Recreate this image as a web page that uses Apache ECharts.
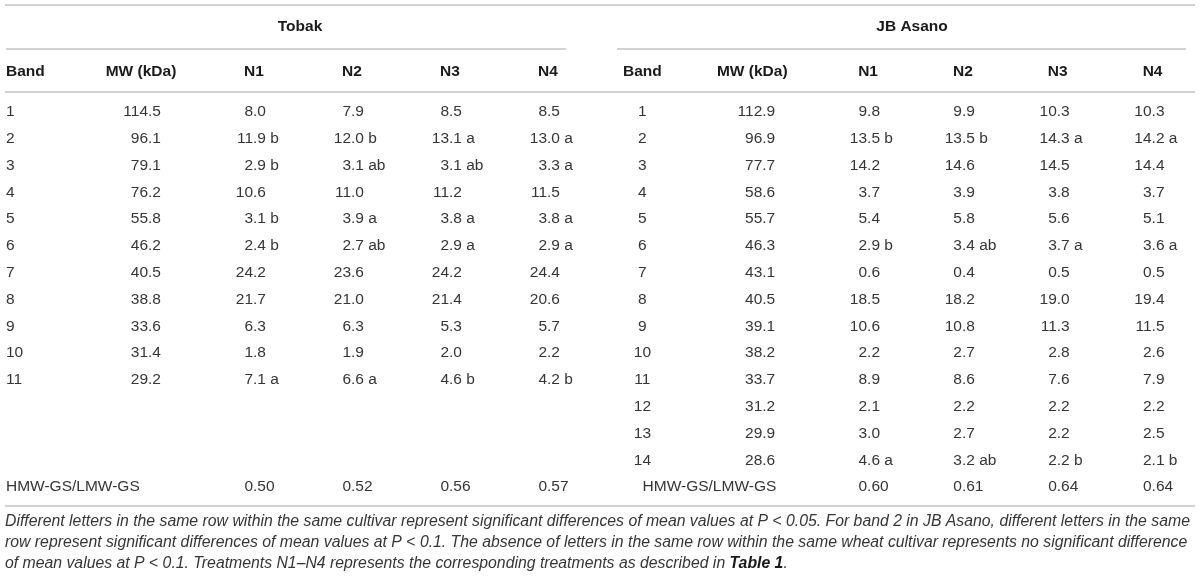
<!DOCTYPE html>
<html>
<head>
<meta charset="utf-8">
<script src="https://cdn.jsdelivr.net/npm/echarts@6/dist/echarts.min.js"></script>
<style>
  html, body, #main { margin: 0; width: 100%; height: 100%; background: #fff; }
</style>
</head>
<body>
<div id="main"></div>
<script>
// table structure
var columns = ['Band', 'MW (kDa)', 'N1', 'N2', 'N3', 'N4'];
var rows = ['1', '2', '3', '4', '5', '6', '7', '8', '9', '10', '11', '12', '13', '14', 'HMW-GS/LMW-GS'];
var ratioLabel = 'HMW-GS/LMW-GS';

// Tobak
var tobakBands = [1, 2, 3, 4, 5, 6, 7, 8, 9, 10, 11];
var tobakMW = [114.5, 96.1, 79.1, 76.2, 55.8, 46.2, 40.5, 38.8, 33.6, 31.4, 29.2];
var tobakN1 = [8.0, 11.9, 2.9, 10.6, 3.1, 2.4, 24.2, 21.7, 6.3, 1.8, 7.1];
var tobakN2 = [7.9, 12.0, 3.1, 11.0, 3.9, 2.7, 23.6, 21.0, 6.3, 1.9, 6.6];
var tobakN3 = [8.5, 13.1, 3.1, 11.2, 3.8, 2.9, 24.2, 21.4, 5.3, 2.0, 4.6];
var tobakN4 = [8.5, 13.0, 3.3, 11.5, 3.8, 2.9, 24.4, 20.6, 5.7, 2.2, 4.2];
var tobakSig1 = ['', 'b', 'b', '', 'b', 'b', '', '', '', '', 'a'];
var tobakSig2 = ['', 'b', 'ab', '', 'a', 'ab', '', '', '', '', 'a'];
var tobakSig3 = ['', 'a', 'ab', '', 'a', 'a', '', '', '', '', 'b'];
var tobakSig4 = ['', 'a', 'a', '', 'a', 'a', '', '', '', '', 'b'];
var tobakRatio = [0.50, 0.52, 0.56, 0.57];

// JB Asano
var asanoBands = [1, 2, 3, 4, 5, 6, 7, 8, 9, 10, 11, 12, 13, 14];
var asanoMW = [112.9, 96.9, 77.7, 58.6, 55.7, 46.3, 43.1, 40.5, 39.1, 38.2, 33.7, 31.2, 29.9, 28.6];
var asanoN1 = [9.8, 13.5, 14.2, 3.7, 5.4, 2.9, 0.6, 18.5, 10.6, 2.2, 8.9, 2.1, 3.0, 4.6];
var asanoN2 = [9.9, 13.5, 14.6, 3.9, 5.8, 3.4, 0.4, 18.2, 10.8, 2.7, 8.6, 2.2, 2.7, 3.2];
var asanoN3 = [10.3, 14.3, 14.5, 3.8, 5.6, 3.7, 0.5, 19.0, 11.3, 2.8, 7.6, 2.2, 2.2, 2.2];
var asanoN4 = [10.3, 14.2, 14.4, 3.7, 5.1, 3.6, 0.5, 19.4, 11.5, 2.6, 7.9, 2.2, 2.5, 2.1];
var asanoSig1 = ['', 'b', '', '', '', 'b', '', '', '', '', '', '', '', 'a'];
var asanoSig2 = ['', 'b', '', '', '', 'ab', '', '', '', '', '', '', '', 'ab'];
var asanoSig3 = ['', 'a', '', '', '', 'a', '', '', '', '', '', '', '', 'b'];
var asanoSig4 = ['', 'a', '', '', '', 'a', '', '', '', '', '', '', '', 'b'];
var asanoRatio = [0.60, 0.61, 0.64, 0.64];

var footnote = [
  'Different letters in the same row within the same cultivar represent significant differences of mean values at P < 0.05. For band 2 in JB Asano, different letters in the same',
  'row represent significant differences of mean values at P < 0.1. The absence of letters in the same row within the same wheat cultivar represents no significant difference',
  'of mean values at P < 0.1. Treatments N1\u2013N4 represents the corresponding treatments as described in '
];

var FONT = '"Liberation Sans", Arial, sans-serif';
var FS = 15.5;
var NOTE_FS = 15.8;
var TEXT = '#363636';
var RULE = '#d2d2d2';
var HEAD_DY = -40;

// per-column offsets from the category centre
var leftLayout = {
  head: [[-52, 'left'], [-15, 'center'], [0, 'center'], [0, 'center'], [0, 'center'], [0, 'center']],
  band: [-52, 'left'], mw: -8, n: -1, ratio: [-52, 'left']
};
var rightLayout = {
  head: [[-36, 'center'], [-21, 'center'], [0, 'center'], [0, 'center'], [0, 'center'], [0, 'center']],
  band: [-36, 'center'], mw: -11, n: -1, ratio: [31, 'center']
};

function buildCells(t, lay) {
  var cells = [];
  columns.forEach(function (name, col) {
    cells.push({ col: col, row: 0, head: true, text: name, dx: lay.head[col][0], align: lay.head[col][1] });
  });
  t.bands.forEach(function (b, r) {
    cells.push({ col: 0, row: r, text: String(b), dx: lay.band[0], align: lay.band[1] });
    cells.push({ col: 1, row: r, text: t.mw[r].toFixed(1), dx: lay.mw, split: true });
    t.n.forEach(function (vals, k) {
      var s = t.sig[k][r];
      cells.push({ col: 2 + k, row: r, text: vals[r].toFixed(1) + (s ? ' ' + s : ''), dx: lay.n, split: true });
    });
  });
  var last = rows.length - 1;
  cells.push({ col: 0, row: last, text: ratioLabel, dx: lay.ratio[0], align: lay.ratio[1] });
  t.ratio.forEach(function (v, k) {
    cells.push({ col: 2 + k, row: last, text: v.toFixed(2), dx: lay.n, split: true });
  });
  return cells;
}

function textStyle(c, extra) {
  var s = {
    fill: c.head ? '#1a1a1a' : TEXT,
    fontSize: FS,
    fontFamily: FONT,
    fontWeight: c.head ? 'bold' : 'normal',
    verticalAlign: 'middle'
  };
  for (var k in extra) s[k] = extra[k];
  return s;
}

function tableSeries(cells, gridIndex) {
  return {
    type: 'custom',
    xAxisIndex: gridIndex,
    yAxisIndex: gridIndex,
    silent: true,
    data: cells.map(function (c) { return [c.col, c.row]; }),
    renderItem: function (params, api) {
      var c = cells[params.dataIndex];
      var p = api.coord([api.value(0), api.value(1)]);
      var x = p[0] + c.dx;
      var y = p[1] + (c.head ? HEAD_DY : 0);
      if (c.split) {
        var i = c.text.indexOf('.');
        return {
          type: 'group',
          children: [
            { type: 'text', x: x, y: y, style: textStyle(c, { text: c.text.slice(0, i), align: 'right' }) },
            { type: 'text', x: x, y: y, style: textStyle(c, { text: c.text.slice(i), align: 'left' }) }
          ]
        };
      }
      return { type: 'text', x: x, y: y, style: textStyle(c, { text: c.text, align: c.align }) };
    }
  };
}

var tobak = {
  bands: tobakBands, mw: tobakMW,
  n: [tobakN1, tobakN2, tobakN3, tobakN4],
  sig: [tobakSig1, tobakSig2, tobakSig3, tobakSig4],
  ratio: tobakRatio
};
var asano = {
  bands: asanoBands, mw: asanoMW,
  n: [asanoN1, asanoN2, asanoN3, asanoN4],
  sig: [asanoSig1, asanoSig2, asanoSig3, asanoSig4],
  ratio: asanoRatio
};

function rule(x1, x2, y) {
  return { type: 'line', silent: true, shape: { x1: x1, y1: y, x2: x2, y2: y }, style: { stroke: RULE, lineWidth: 2 } };
}
function title(text, x) {
  return { type: 'text', x: x, y: 27, silent: true,
    style: { text: text, fill: '#1a1a1a', fontSize: FS, fontWeight: 'bold', fontFamily: FONT, align: 'center', verticalAlign: 'middle' } };
}
function noteLine(text, y, tail) {
  var parts = text.split(' < ');
  var s = '';
  parts.forEach(function (p, i) {
    s += '{i|' + p + '}' + (i < parts.length - 1 ? '{u| < }' : '');
  });
  if (tail) s += '{b|Table 1}{i|.}';
  return {
    type: 'text', x: 5, y: y, silent: true,
    style: {
      text: s, align: 'left', verticalAlign: 'middle',
      rich: {
        i: { fill: TEXT, fontSize: NOTE_FS, fontFamily: FONT, fontStyle: 'italic' },
        u: { fill: TEXT, fontSize: NOTE_FS, fontFamily: FONT },
        b: { fill: '#1a1a1a', fontSize: NOTE_FS, fontFamily: FONT, fontStyle: 'italic', fontWeight: 'bold' }
      }
    }
  };
}

var chart = echarts.init(document.getElementById('main'));

var gridTop = 98.6, rowH = 26.8, colW = 98;
chart.setOption({
  animation: false,
  grid: [
    { left: 9, top: gridTop, width: colW * 6, height: rowH * rows.length },
    { left: 631, top: gridTop, width: colW * 6, height: rowH * rows.length }
  ],
  xAxis: [
    { type: 'category', gridIndex: 0, data: columns, show: false },
    { type: 'category', gridIndex: 1, data: columns, show: false }
  ],
  yAxis: [
    { type: 'category', gridIndex: 0, data: rows, inverse: true, show: false },
    { type: 'category', gridIndex: 1, data: rows, inverse: true, show: false }
  ],
  graphic: [
    rule(5, 1195, 5),
    title('Tobak', 300),
    title('JB Asano', 912),
    rule(6, 566, 49),
    rule(617, 1186, 49),
    rule(5, 1195, 92),
    rule(5, 1195, 506),
    noteLine(footnote[0], 522),
    noteLine(footnote[1], 543),
    noteLine(footnote[2], 564, true)
  ],
  series: [
    tableSeries(buildCells(tobak, leftLayout), 0),
    tableSeries(buildCells(asano, rightLayout), 1)
  ]
});

window.onresize = function () {
  chart.resize();
};
</script>
</body>
</html>
